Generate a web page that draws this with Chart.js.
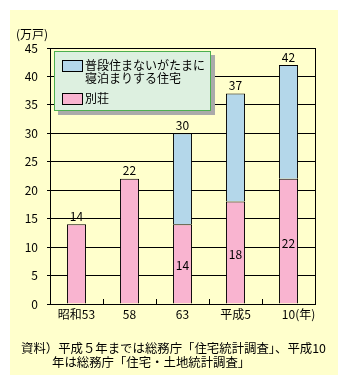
<!DOCTYPE html>
<html>
<head>
<meta charset="utf-8">
<script src="https://cdn.jsdelivr.net/npm/chart.js@4"></script>
<style>
  body { margin: 0; background: #fff; }
</style>
</head>
<body>
<canvas id="villa-chart" width="349" height="385"></canvas>
<script>
const years = ['昭和53', '58', '63', '平成5', '10'];
const villas = [14, 22, 14, 18, 22];           // 別荘
const secondHomes = [null, null, 16, 19, 20];   // 普段住まないがたまに寝泊まりする住宅
const yTicks = [0, 5, 10, 15, 20, 25, 30, 35, 40, 45];

const legendItems = [
    { lines: ['普段住まないがたまに', '寝泊まりする住宅'], color: '#B4D7EA' },
    { lines: ['別荘'], color: '#F9B4D0' }
];
const sourceNote = [
    '資料）平成５年までは総務庁「住宅統計調査」、平成10',
    '年は総務庁「住宅・土地統計調査」'
];

const FONT = '"Noto Sans CJK JP", "Noto Sans", sans-serif';
Chart.defaults.font.family = FONT;
Chart.defaults.font.size = 12;
Chart.defaults.color = '#000';

// background panel, labels, legend box and source note
const decorations = {
    id: 'decorations',
    beforeDraw(chart) {
        const ctx = chart.ctx;
        ctx.save();
        ctx.fillStyle = '#fff';
        ctx.fillRect(0, 0, chart.width, chart.height);
        ctx.fillStyle = '#FFFFCC';
        ctx.fillRect(10, 10, 328, 365);
        ctx.restore();
    },
    afterDatasetsDraw(chart) {
        const ctx = chart.ctx;
        const area = chart.chartArea;
        const xs = chart.scales.x;
        const ys = chart.scales.y;
        ctx.save();

        // right frame line
        ctx.strokeStyle = '#000';
        ctx.lineWidth = 1;
        ctx.beginPath();
        ctx.moveTo(Math.round(area.right) + 0.5, area.top);
        ctx.lineTo(Math.round(area.right) + 0.5, area.bottom);
        ctx.stroke();

        // short ticks between categories
        for (let i = 1; i < years.length; i++) {
            const x = Math.round((xs.getPixelForValue(i - 1) + xs.getPixelForValue(i)) / 2) + 0.5;
            ctx.beginPath();
            ctx.moveTo(x, area.bottom - 5);
            ctx.lineTo(x, area.bottom);
            ctx.stroke();
        }

        // value labels
        ctx.fillStyle = '#000';
        ctx.font = '12px ' + FONT;
        ctx.textAlign = 'center';
        const pinkMeta = chart.getDatasetMeta(0);
        years.forEach((y, i) => {
            const total = villas[i] + (secondHomes[i] || 0);
            const x = pinkMeta.data[i].x;
            ctx.textBaseline = 'bottom';
            ctx.fillText(String(total), x, ys.getPixelForValue(total) - 2);
            if (secondHomes[i]) {
                const el = pinkMeta.data[i];
                ctx.textBaseline = 'middle';
                ctx.fillText(String(villas[i]), x, (el.y + el.base) / 2 + 2);
            }
        });

        // axis units
        ctx.textAlign = 'left';
        ctx.textBaseline = 'middle';
        ctx.fillText('(万戸)', 16, 34);
        const lastX = xs.getPixelForValue(years.length - 1);
        const w = ctx.measureText(years[years.length - 1]).width;
        ctx.fillText('(年)', lastX + w / 2, area.bottom + 10);

        // legend box with shadow
        const lx = 54, ly = 51, lw = 157, lh = 60;
        ctx.fillStyle = '#AAAAAA';
        ctx.fillRect(lx + 4, ly + 4, lw, lh);
        ctx.fillStyle = '#DDF0E0';
        ctx.fillRect(lx, ly, lw, lh);
        ctx.strokeStyle = '#4CAF50';
        ctx.strokeRect(lx + 0.5, ly + 0.5, lw - 1, lh - 1);

        let rowY = ly + 9;
        legendItems.forEach(item => {
            ctx.fillStyle = item.color;
            ctx.fillRect(62, rowY, 20, 11);
            ctx.strokeStyle = '#000';
            ctx.strokeRect(62.5, rowY + 0.5, 20, 11);
            ctx.fillStyle = '#000';
            item.lines.forEach((line, k) => {
                ctx.fillText(line, 85, rowY + 5 + k * 13);
            });
            rowY += 33;
        });

        // source note
        ctx.font = '12.4px ' + FONT;
        ctx.fillText(sourceNote[0], 21, 348);
        ctx.fillText(sourceNote[1], 52, 362);

        ctx.restore();
    }
};

new Chart(document.getElementById('villa-chart'), {
    type: 'bar',
    data: {
        labels: years,
        datasets: [
            {
                label: '別荘',
                data: villas,
                backgroundColor: '#F9B4D0',
                borderColor: '#000',
                borderWidth: 1,
                barPercentage: 0.36,
                categoryPercentage: 1
            },
            {
                label: '普段住まないがたまに寝泊まりする住宅',
                data: secondHomes,
                backgroundColor: '#B4D7EA',
                borderColor: '#000',
                borderWidth: 1,
                barPercentage: 0.36,
                categoryPercentage: 1
            }
        ]
    },
    options: {
        responsive: false,
        animation: false,
        layout: { padding: { top: 48, right: 34, left: 0, bottom: 61 } },
        plugins: {
            legend: { display: false },
            tooltip: { enabled: false }
        },
        scales: {
            x: {
                stacked: true,
                grid: { display: false, drawTicks: false },
                border: { display: true, color: '#000' },
                ticks: { padding: 3, font: { size: 12 } },
                afterFit(scale) { scale.height = 20; }
            },
            y: {
                stacked: true,
                min: 0,
                max: 45,
                afterBuildTicks(scale) {
                    scale.ticks = yTicks.map(v => ({ value: v }));
                },
                grid: { color: '#000', tickLength: 3 },
                border: { display: true, color: '#000' },
                ticks: { padding: 9, font: { size: 12 } },
                afterFit(scale) { scale.width = 50; }
            }
        }
    },
    plugins: [decorations]
});
</script>
</body>
</html>
